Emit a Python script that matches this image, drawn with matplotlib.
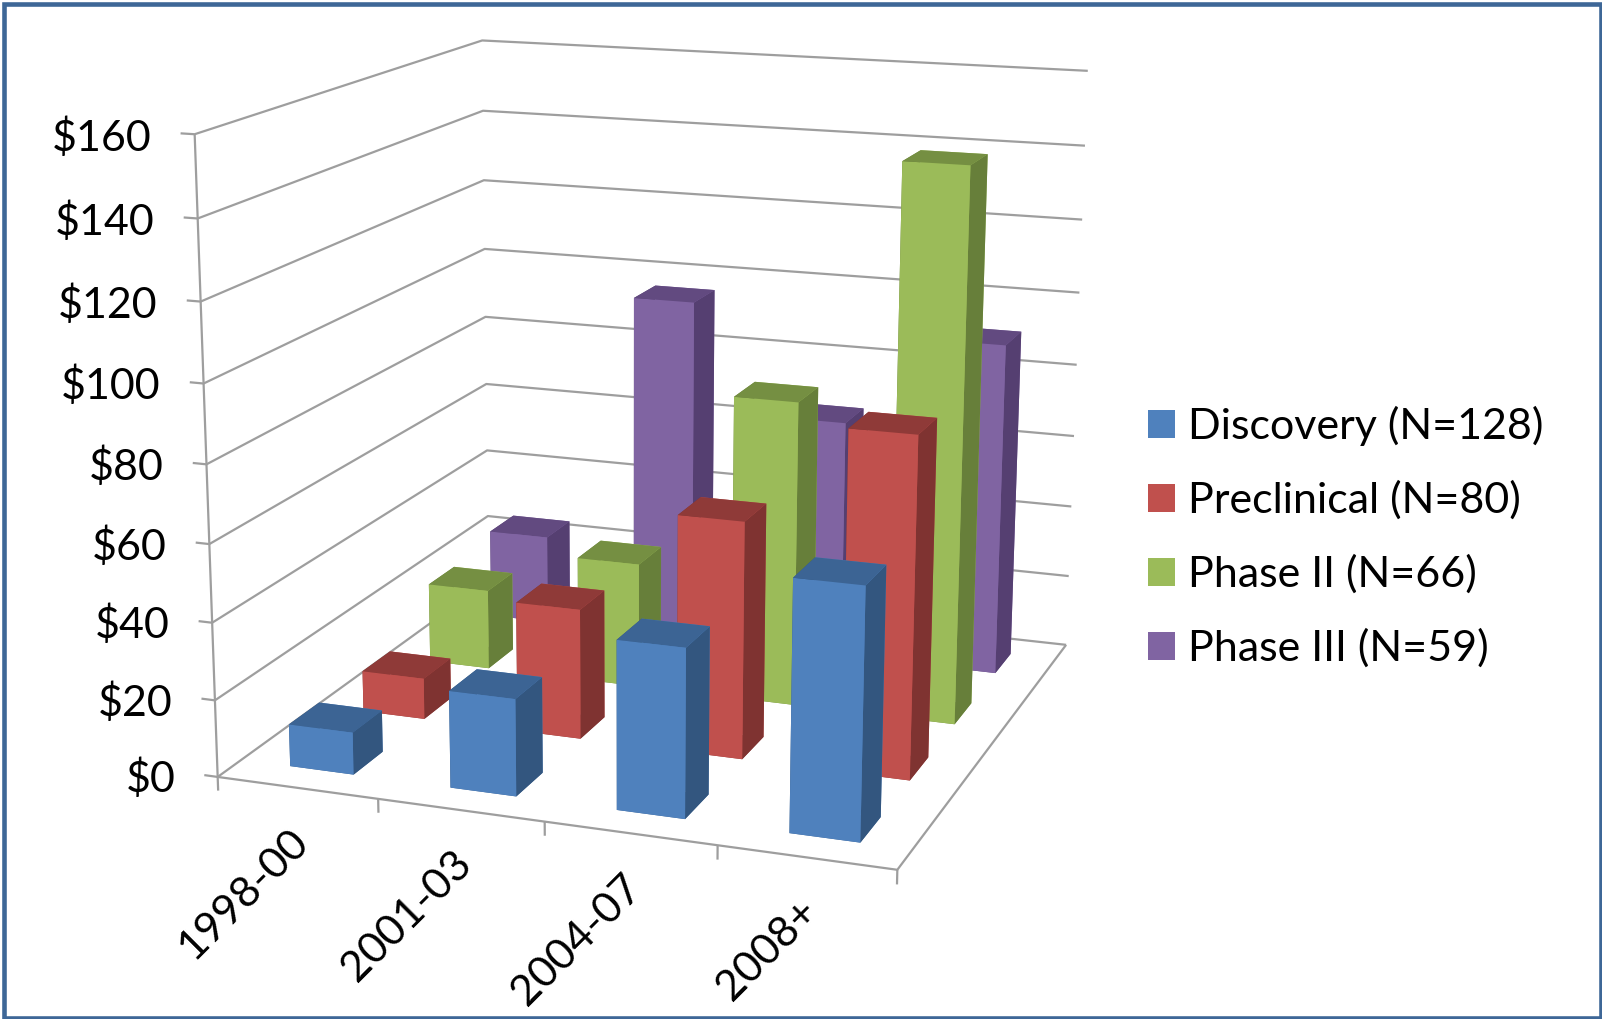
import numpy as np
import matplotlib
matplotlib.use("Agg")
import matplotlib.pyplot as plt
from matplotlib.patches import Patch, Rectangle
from mpl_toolkits.mplot3d.art3d import Line3DCollection

plt.rcParams['font.family'] = ['Lato', 'DejaVu Sans']

# Data ($M, by period and phase)
periods = ['1998-00', '2001-03', '2004-07', '2008+']
series = ['Discovery (N=128)', 'Preclinical (N=80)', 'Phase II (N=66)', 'Phase III (N=59)']
discovery = [11, 25, 43, 63]
preclinical = [11, 34.5, 62, 88]
phase2 = [22, 34, 82, 146]
phase3 = [25, 96, 66, 91]
values = [discovery, preclinical, phase2, phase3]
yticks = [0, 20, 40, 60, 80, 100, 120, 140, 160]

# front, side, top colours for each series
front = ['#4F81BD', '#C0504D', '#9BBB59', '#8064A2']
side = ['#33567F', '#7F3331', '#677F3A', '#553F71']
top = ['#3C6494', '#8F3A38', '#758F42', '#624A80']

GRID = '#9E9E9E'
BAR = 0.4  # gap width 150%

# Camera: the chart is a perspective view, so calibrate it from the box corners
world = np.array([(0, 0, 0), (4, 0, 0), (4, 4, 0), (0, 4, 0), (0, 0, 160), (0, 4, 160),
                  (4, 4, 160), (0, 0, 80), (0, 4, 80), (4, 4, 80), (0, 4, 20),
                  (1, 0, 0), (2, 0, 0), (3, 0, 0)], dtype=float)
image = np.array([(214, 761), (878, 852), (1044, 630), (478, 569), (190, 131), (472, 40),
                  (1065, 70), (202.5, 453), (475, 310), (1054, 357), (477, 505),
                  (371, 783), (533, 804), (701, 827)], dtype=float) * 1602 / 1568


def calibrate(world, image):
    S = np.diag([1, 1, 1 / 40, 1.0])
    rows = []
    for (x, y, z), (u, v) in zip(world, image):
        p = S @ [x, y, z, 1]
        u, v = u / 1000, v / 1000
        rows.append(np.r_[p, 0, 0, 0, 0, -u * p])
        rows.append(np.r_[0, 0, 0, 0, p, -v * p])
    P = np.linalg.svd(np.array(rows))[2][-1].reshape(3, 4)
    P = np.diag([1000, 1000, 1.0]) @ P @ S
    return P / P[2, 3]


P = calibrate(world, image)
M = np.vstack([P[0], P[1], [0, 0, 0, -1], P[2]])


def project(x, y, z):
    u, v, w = P @ [x, y, z, 1]
    return u / w, v / w


fig = plt.figure(figsize=(16.02, 10.19), dpi=100, facecolor='white')
ax = fig.add_axes([0, 0, 1, 1], projection='3d', computed_zorder=False)
ax.set_axis_off()
ax.get_proj = lambda: M
ax.apply_aspect = lambda position=None: None
ax.viewLim.intervalx = (0, 1602)
ax.viewLim.intervaly = (1019, 0)

# Walls and floor
lines = [[(-0.085, 0, val), (0, 0, val), (0, 4, val), (4, 4, val)] for val in yticks]
lines.append([(0, 0, 0), (0, 0, 160)])
lines.append([(0, 0, 0), (4, 0, 0), (4, 4, 0)])
lines += [[(i, 0, 0), (i, 0, -3.6)] for i in range(5)]
ax.add_collection3d(Line3DCollection(lines, colors=GRID, linewidths=1.6, zorder=1), autolim=False)

# Bars, back row first, left to right
order = 2
for j in range(3, -1, -1):
    for i in range(4):
        faces = [top[j], top[j], front[j], front[j], side[j], side[j]]
        ax.bar3d(i + 0.51 - BAR / 2, j + 0.5 - BAR / 2, 0, BAR, BAR, values[j][i],
                 color=faces, shade=False, edgecolor='none', linewidth=0, zorder=order)
        order += 1

# Axis labels
for val in yticks:
    px, py = project(-0.085, 0, val)
    ax.text2D(px - 29, py + 4, f'${val}', transform=ax.transData, ha='right', va='center',
              fontsize=31, color='black')
for i, name in enumerate(periods):
    px, py = project(i + 0.5, 0, 0)
    ax.text2D(px + 5, py + 48, name, transform=ax.transData, ha='right', va='center',
              rotation=45, rotation_mode='anchor', fontsize=31, color='black')

handles = [Patch(facecolor=c, edgecolor='none') for c in front]
fig.legend(handles, series, loc='center left', bbox_to_anchor=(1148 / 1602, 1 - 537 / 1019),
           frameon=False, fontsize=31, handlelength=0.63, handleheight=0.63,
           handletextpad=0.29, labelspacing=0.8, borderpad=0, borderaxespad=0)

# Frame round the picture
fig.add_artist(Rectangle((3.5 / 1602, 1 / 1019), 1597.5 / 1602, 1014.5 / 1019,
                         transform=fig.transFigure, fill=False,
                         edgecolor='#3E6797', linewidth=3.3))

fig.savefig('out.png', dpi=100)
